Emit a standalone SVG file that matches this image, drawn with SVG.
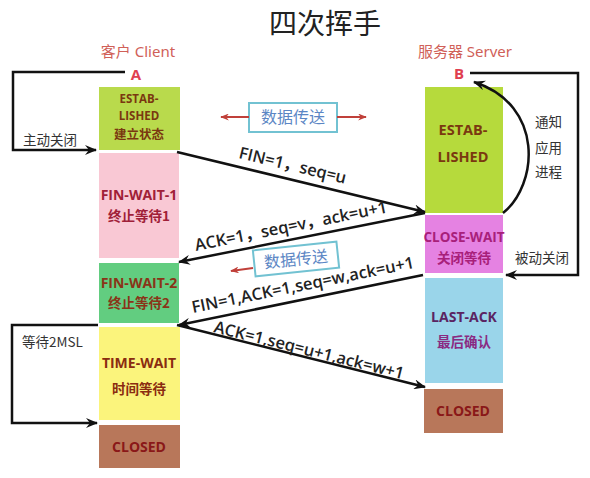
<svg xmlns="http://www.w3.org/2000/svg" width="590" height="478" viewBox="0 0 590 478">
<defs>
<marker id="ah" viewBox="0 0 12 10" refX="11" refY="5" markerWidth="12" markerHeight="10" markerUnits="userSpaceOnUse" orient="auto">
<path d="M0,0 L12,5 L0,10 L4,5 Z" fill="#111"/>
</marker>
<marker id="rh" viewBox="0 0 10 8" refX="9" refY="4" markerWidth="9" markerHeight="7" markerUnits="userSpaceOnUse" orient="auto">
<path d="M0,0 L10,4 L0,8 L3,4 Z" fill="#c0403a"/>
</marker>
<style>
.t{font-family:"Noto Sans","Noto Sans CJK SC",sans-serif;}
.b{font-family:"Open Sans","Noto Sans CJK SC",sans-serif;font-weight:bold;text-anchor:middle;}
.cj{font-family:"Noto Sans CJK SC",sans-serif;font-weight:bold;text-anchor:middle;}
.ln{fill:none;stroke:#111;stroke-width:2.5;}
.msg{fill:none;stroke:#111;stroke-width:2.5;marker-end:url(#ah);}
.lbl{font-family:"Open Sans","Noto Sans CJK SC",sans-serif;font-size:16.5px;fill:#222;font-weight:600;}
.side{font-family:"Noto Sans CJK SC",sans-serif;font-size:13.5px;fill:#333;}
.data{font-family:"Noto Sans CJK SC",sans-serif;font-size:16px;fill:#5b86c4;text-anchor:middle;}
.dbox{fill:#fff;stroke:#72c2d2;stroke-width:2;}
.red{stroke:#c0403a;stroke-width:2;fill:none;marker-end:url(#rh);}
</style>
</defs>

<text class="t" x="325" y="34" font-size="28" text-anchor="middle" fill="#222">四次挥手</text>
<text class="t" x="138" y="57" font-size="15" text-anchor="middle" fill="#d06058">客户 Client</text>
<text class="t" x="465" y="57" font-size="15" text-anchor="middle" fill="#d06058">服务器 Server</text>
<text class="b" x="136" y="80" font-size="15" fill="#e04050">A</text>
<text class="b" x="459" y="79" font-size="15" fill="#e04050">B</text>

<g id="client-established">
<rect x="99" y="87" width="81" height="63" fill="#b9da4c"/>
<text class="b" x="139" y="103" font-size="11.5" fill="#7a3810">ESTAB-</text>
<text class="b" x="139" y="120" font-size="11.5" fill="#7a3810">LISHED</text>
<text class="cj" x="139" y="139" font-size="12.5" fill="#7a3810">建立状态</text>
</g>
<g id="client-finwait1">
<rect x="99" y="153" width="80" height="105" fill="#f9c8d4"/>
<text class="b" x="139" y="200" font-size="14" fill="#a02038">FIN-WAIT-1</text>
<text class="cj" x="139" y="221" font-size="13.5" fill="#a02038">终止等待1</text>
</g>
<g id="client-finwait2">
<rect x="99" y="263" width="80" height="60" fill="#62cd80"/>
<text class="b" x="139" y="288" font-size="14" fill="#8a3418">FIN-WAIT-2</text>
<text class="cj" x="139" y="308" font-size="13.5" fill="#8a3418">终止等待2</text>
</g>
<g id="client-timewait">
<rect x="99" y="327" width="81" height="93" fill="#fbf47c"/>
<text class="b" x="139" y="368" font-size="14" fill="#8a2c10">TIME-WAIT</text>
<text class="cj" x="139" y="394" font-size="13.5" fill="#8a2c10">时间等待</text>
</g>
<g id="client-closed">
<rect x="99" y="425" width="81" height="43" fill="#b8775a"/>
<text class="b" x="139" y="452" font-size="14" fill="#8a1818">CLOSED</text>
</g>

<g id="server-established">
<rect x="425" y="87" width="78" height="126" fill="#b6da3c"/>
<text class="b" x="463" y="135" font-size="14.5" fill="#7a3810">ESTAB-</text>
<text class="b" x="463" y="162" font-size="14.5" fill="#7a3810">LISHED</text>
</g>
<g id="server-closewait">
<rect x="425" y="215" width="78" height="58" fill="#e582e2"/>
<text class="b" x="464" y="242" font-size="13.5" fill="#a8207a">CLOSE-WAIT</text>
<text class="cj" x="464" y="263" font-size="13.5" fill="#a8207a">关闭等待</text>
</g>
<g id="server-lastack">
<rect x="425" y="278" width="78" height="105" fill="#9ad5ea"/>
<text class="b" x="464" y="322" font-size="14" fill="#5a2462">LAST-ACK</text>
<text class="cj" x="464" y="347" font-size="13.5" fill="#8a2a82">最后确认</text>
</g>
<g id="server-closed">
<rect x="424" y="389" width="79" height="44" fill="#b8775a"/>
<text class="b" x="463" y="416" font-size="14" fill="#8a1818">CLOSED</text>
</g>

<g id="data-transfer-1">
<rect class="dbox" x="249" y="103" width="88" height="29"/>
<text class="data" x="293" y="123">数据传送</text>
</g>
<g id="data-transfer-2" transform="rotate(-6 296 259)">
<rect class="dbox" x="254" y="246" width="84" height="26"/>
<text class="data" x="296" y="265">数据传送</text>
</g>

<g id="connectors">
<path class="ln" d="M125,72 H13 V150 H96" marker-end="url(#ah)"/>
<path class="ln" d="M470,73 H578 V275 H506" marker-end="url(#ah)"/>
<path class="ln" d="M503,213 C538,185 545,105 474,82" marker-end="url(#ah)"/>
<path class="ln" d="M98,325 H12 V423 H97" marker-end="url(#ah)"/>
<path class="msg" d="M177,152 L425,212"/>
<path class="msg" d="M425,213 L179,262"/>
<path class="msg" d="M423,275 L179,325"/>
<path class="msg" d="M177,325 L425,387"/>
<path class="red" d="M249,117 H221"/>
<path class="red" d="M337,117 H366"/>
<path class="red" d="M253,268 L231,271"/>
</g>

<text class="lbl" transform="translate(238,158) rotate(13.5)">FIN=1，seq=u</text>
<text class="lbl" transform="translate(196,251) rotate(-11.4)">ACK=1，seq=v，ack=u+1</text>
<text class="lbl" transform="translate(193,313) rotate(-11.5)">FIN=1,ACK=1,seq=w,ack=u+1</text>
<text class="lbl" transform="translate(213,332) rotate(14)">ACK=1,seq=u+1,ack=w+1</text>

<text class="side" x="23" y="145">主动关闭</text>
<text class="side" x="515" y="263">被动关闭</text>
<text class="side" x="535" y="127">通知</text>
<text class="side" x="535" y="153">应用</text>
<text class="side" x="535" y="177">进程</text>
<text class="side" x="22" y="347">等待2MSL</text>
</svg>
